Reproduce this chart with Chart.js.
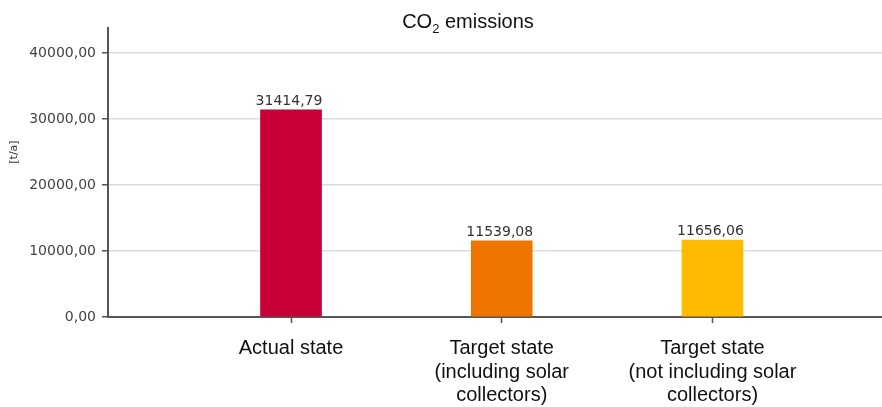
<!DOCTYPE html>
<html>
<head>
<meta charset="UTF-8">
<title>CO2 emissions</title>
<script src="https://cdn.jsdelivr.net/npm/chart.js"></script>
<style>
  *{padding: 0; margin: 0;}
  body{background: #fff;}
  #wrap{position: relative; width: 882px; height: 407px;}
  #title{position: absolute; left: 368px; top: 11px; width: 200px; text-align: center;
         font: 20px "Liberation Sans", Arial, sans-serif; line-height: 20px; color: #111;}
  #title sub{font-size: 13px; vertical-align: -5px; line-height: 0;}
</style>
</head>
<body>
<div id="wrap">
  <canvas id="myChart" width="882" height="407"></canvas>
  <div id="title">CO<sub>2</sub> emissions</div>
</div>
<script>
// data
const categories = [
  ['Actual state'],
  ['Target state', '(including solar', 'collectors)'],
  ['Target state', '(not including solar', 'collectors)']
];
const values = [31414.79, 11539.08, 11656.06];
const yTicks = [0, 10000, 20000, 30000, 40000];
const yLabel = '[t/a]';

const barColors = ['#C80036', '#EE7600', '#FFBB00'];

function fmt(v){
  return v.toFixed(2).replace('.', ',');
}

// value on top of each bar + the unit label of the y axis
const valueLabels = {
  id: 'valueLabels',
  afterDatasetsDraw(chart){
    const ctx = chart.ctx;
    const meta = chart.getDatasetMeta(0);
    ctx.save();
    ctx.font = '14px "DejaVu Sans", Verdana, sans-serif';
    ctx.fillStyle = '#333';
    ctx.textAlign = 'center';
    ctx.textBaseline = 'alphabetic';
    meta.data.forEach(function(bar, i){
      ctx.fillText(fmt(values[i]), bar.x - 2, bar.y - 5);
    });
    // unit label, a bit above the middle of the axis
    const ys = chart.scales.y;
    ctx.translate(ys.left + 14, ys.getPixelForValue(25000));
    ctx.rotate(-Math.PI / 2);
    ctx.font = '11px "DejaVu Sans", Verdana, sans-serif';
    ctx.textBaseline = 'middle';
    ctx.fillText(yLabel, 0, 0);
    ctx.restore();
  }
};

const points = values.map(function(v, i){ return {x: i + 1, y: v}; });

new Chart(document.getElementById('myChart'), {
  type: 'bar',
  data: {
    datasets: [{
      data: points,
      backgroundColor: barColors,
      borderWidth: 0,
      barThickness: 61
    }]
  },
  options: {
    responsive: false,
    animation: false,
    layout: {padding: {top: 28, left: 0, right: 0, bottom: 0}},
    plugins: {legend: {display: false}, tooltip: {enabled: false}, title: {display: false}},
    scales: {
      x: {
        type: 'linear',
        min: 0.1315,
        max: 3.8045,
        offset: false,
        afterBuildTicks: function(s){ s.ticks = categories.map(function(c, i){ return {value: i + 1}; }); },
        afterFit: function(s){ s.height = 90; },
        grid: {offset: false, drawOnChartArea: false, drawTicks: true, tickLength: 6, tickColor: '#555', tickWidth: 1.5},
        border: {color: '#555', width: 2},
        ticks: {
          autoSkip: false,
          maxRotation: 0,
          padding: 14,
          color: '#111',
          font: {family: '"Liberation Sans", Arial, sans-serif', size: 20, lineHeight: 1.17},
          callback: function(v){ return categories[v - 1] || ''; }
        }
      },
      y: {
        min: 0,
        max: 43800,
        afterBuildTicks: function(s){ s.ticks = yTicks.map(function(v){ return {value: v}; }); },
        afterFit: function(s){ s.width = 108; },
        grid: {color: '#dcdcdc', lineWidth: 1.5, drawTicks: true, tickLength: 6, tickColor: '#555', tickWidth: 1.5},
        border: {color: '#555', width: 2},
        title: {display: false},
        ticks: {
          padding: 6,
          color: '#444',
          font: {family: '"DejaVu Sans", Verdana, sans-serif', size: 14},
          callback: function(v){ return fmt(v); }
        }
      }
    }
  },
  plugins: [valueLabels]
});
</script>
</body>
</html>
